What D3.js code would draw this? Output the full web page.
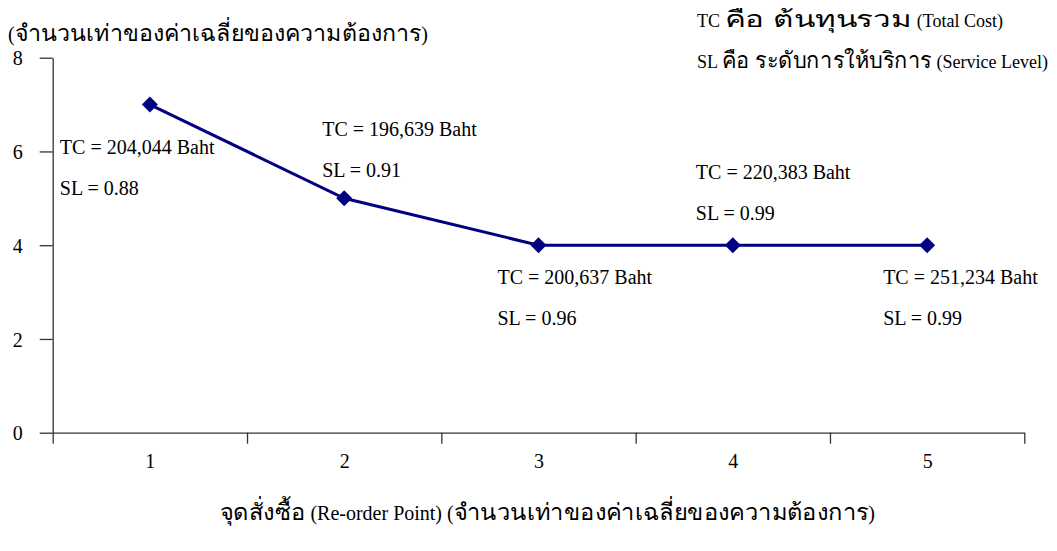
<!DOCTYPE html>
<html>
<head>
<meta charset="utf-8">
<script src="https://cdn.jsdelivr.net/npm/d3@7"></script>
<style>
  html, body { margin: 0; padding: 0; background: #fff; }
  svg { display: block; }
  text { font-family: "Liberation Serif", "Times New Roman", serif; fill: #000; }
</style>
</head>
<body>
<svg id="chart" width="1057" height="551"></svg>
<script>
// Re-order point (multiples of mean demand) vs. resulting cost and service level
const reorderPoints = [1, 2, 3, 4, 5];
const orderQty = [7, 5, 4, 4, 4];
const totalCost = ["204,044", "196,639", "200,637", "220,383", "251,234"];
const serviceLevel = ["0.88", "0.91", "0.96", "0.99", "0.99"];
const yTicks = [0, 2, 4, 6, 8];

// where each TC/SL note sits relative to its marker (px)
const noteOffsets = [[-90, 49], [-22, -62], [-41, 39], [-37, -66], [-44, 39]];

const yTitle = "(จำนวนเท่าของค่าเฉลี่ยของความต้องการ)";
const xTitle = "จุดสั่งซื้อ (Re-order Point) (จำนวนเท่าของค่าเฉลี่ยของความต้องการ)";
const legendLines = ["TC คือ ต้นทุนรวม (Total Cost)", "SL คือ ระดับการให้บริการ (Service Level)"];

const svg = d3.select("#chart");
const fontSize = 20;
const plot = { left: 52.7, right: 1024.3, top: 57.7, bottom: 432.7 };

const x = d3.scaleLinear().domain([0.5, 5.5]).range([plot.left, plot.right]);
const y = d3.scaleLinear().domain([0, 8]).range([plot.bottom, plot.top]);

const axisColor = "#333";

// y axis
const gy = svg.append("g")
  .attr("transform", `translate(${plot.left},0)`)
  .call(d3.axisLeft(y).tickValues(yTicks).tickSize(13).tickPadding(17).tickSizeOuter(0));
gy.selectAll("text").attr("font-size", fontSize).attr("dy", "0.36em");

// x axis: tick marks at category boundaries
const boundaries = d3.range(0.5, 5.51, 1);
svg.append("g")
  .attr("transform", `translate(0,${plot.bottom})`)
  .call(d3.axisBottom(x).tickValues(boundaries).tickSize(11).tickFormat("").tickSizeOuter(0));

// x axis: category labels at centres
const gxl = svg.append("g")
  .attr("transform", `translate(0,${plot.bottom})`)
  .call(d3.axisBottom(x).tickValues(reorderPoints).tickSize(0).tickPadding(21).tickFormat(d3.format("d")));
gxl.select(".domain").remove();
gxl.selectAll("text").attr("font-size", fontSize);

svg.selectAll(".domain, .tick line").attr("stroke", axisColor).attr("stroke-width", 1.3);

// line
const pts = reorderPoints.map((r, i) => ({ r, v: orderQty[i], tc: totalCost[i], sl: serviceLevel[i], off: noteOffsets[i] }));
svg.append("path")
  .datum(pts)
  .attr("fill", "none")
  .attr("stroke", "#000080")
  .attr("stroke-width", 3)
  .attr("d", d3.line().x(d => x(d.r)).y(d => y(d.v)));

// diamond markers
svg.selectAll(".marker")
  .data(pts)
  .join("path")
  .attr("class", "marker")
  .attr("transform", d => `translate(${x(d.r)},${y(d.v)})`)
  .attr("d", "M0,-8L8,0L0,8L-8,0Z")
  .attr("fill", "#000080");

// TC / SL notes
const notes = svg.selectAll(".note")
  .data(pts)
  .join("g")
  .attr("class", "note")
  .attr("transform", d => `translate(${x(d.r) + d.off[0]},${y(d.v) + d.off[1]})`);
notes.append("text").attr("font-size", fontSize).text(d => `TC = ${d.tc} Baht`);
notes.append("text").attr("font-size", fontSize).attr("y", 41).text(d => `SL = ${d.sl}`);

// Mixed Thai/Latin text: Thai runs set larger than Latin ones and widened
// so the whole line spans the given width; Latin runs stay as set.
const thaiRe = /([\u0E00-\u0E7F]+(?:\s+[\u0E00-\u0E7F]+)*)/;
function mixedText(str, px, py, latinSize, thaiScale, width) {
  const t = svg.append("text").attr("x", px).attr("y", py).attr("font-size", latinSize);
  const spans = str.split(thaiRe).filter(s => s.length).map(p => {
    const isThai = thaiRe.test(p);
    return t.append("tspan")
      .attr("font-size", isThai ? latinSize * thaiScale : latinSize)
      .property("isThai", isThai)
      .text(p);
  });
  const total = t.node().getComputedTextLength();
  const thai = spans.filter(s => s.property("isThai"));
  const thaiW = d3.sum(thai, s => s.node().getComputedTextLength());
  const extra = width - total;
  if (thaiW > 0 && Math.abs(extra) > 2) {
    thai.forEach(s => {
      const w = s.node().getComputedTextLength();
      s.attr("textLength", w + extra * (w / thaiW)).attr("lengthAdjust", "spacingAndGlyphs");
    });
  }
  return t;
}

// titles
mixedText(yTitle, 8, 41, fontSize, 1.15, 420);
mixedText(xTitle, 220, 520, fontSize, 1.15, 655);

// legend notes
legendLines.forEach((line, i) => mixedText(line, 697, 27 + i * 41, 18, 1.25, [306, 351][i]));
</script>
</body>
</html>
